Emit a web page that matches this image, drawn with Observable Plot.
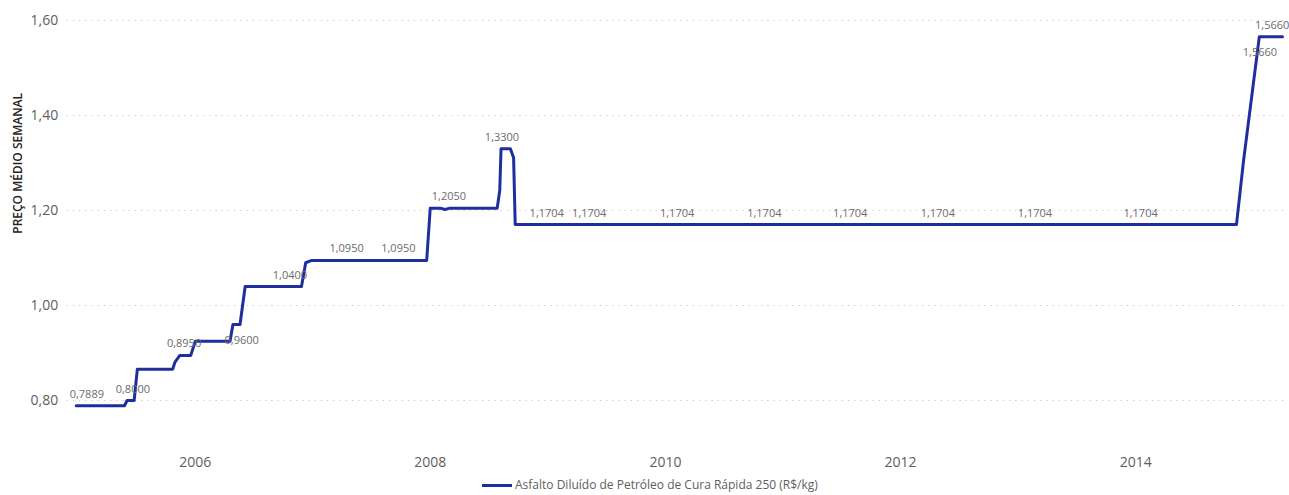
<!DOCTYPE html>
<html>
<head>
<meta charset="utf-8">
<script src="https://cdn.jsdelivr.net/npm/d3@7"></script>
<script src="https://cdn.jsdelivr.net/npm/@observablehq/plot@0.6"></script>
<style>
  html, body { margin: 0; padding: 0; background: #fff; }
  body { width: 1289px; height: 495px; overflow: hidden; position: relative; font-family: "Open Sans", "Noto Sans", sans-serif; }
  #chart svg { display: block; }
  #legend { position: absolute; left: 482px; top: 477px; height: 16px; display: flex; align-items: center; font-size: 12px; line-height: 16px; color: #605E5C; white-space: nowrap; }
  #legend .sw { width: 30px; height: 0; border-top: 3px solid #1F2E9E; margin-right: 3px; }
</style>
</head>
<body>
<div id="chart"></div>
<div id="legend"><span class="sw"></span><span>Asfalto Diluído de Petróleo de Cura Rápida 250 (R$/kg)</span></div>
<script>
// Weekly series (step changes)
const dates = [
  "2004-12-27","2005-05-26","2005-06-03","2005-06-25","2005-07-05","2005-10-23","2005-10-30","2005-11-14",
  "2005-12-18","2006-01-01","2006-04-19","2006-04-28","2006-05-20","2006-06-05","2006-11-27","2006-12-10",
  "2006-12-29","2007-12-21","2008-01-01","2008-02-01","2008-02-16","2008-03-03","2008-07-27","2008-08-04",
  "2008-08-08","2008-09-06","2008-09-16","2008-09-21","2014-11-10","2014-12-02","2015-01-20","2015-04-02"
];
const values = [
  0.7889,0.7889,0.8000,0.8000,0.8660,0.8660,0.8810,0.8950,
  0.8950,0.9250,0.9250,0.9600,0.9600,1.0400,1.0400,1.0900,
  1.0950,1.0950,1.2050,1.2050,1.2020,1.2050,1.2050,1.2420,
  1.3300,1.3300,1.3110,1.1704,1.1704,1.3050,1.5660,1.5660
];
// Data labels
const labelDates = [
  "2005-01-29","2005-06-21","2005-11-27","2006-05-25","2006-10-22","2007-04-16","2007-09-24","2008-02-28",
  "2008-08-11","2008-12-28","2009-05-09","2010-02-06","2010-11-04","2011-07-29","2012-04-26","2013-02-22",
  "2014-01-16","2015-01-22","2015-03-01"
];
const labelValues = [
  0.7889,0.8000,0.8950,0.9600,1.0400,1.0950,1.0950,1.2050,
  1.3300,1.1704,1.1704,1.1704,1.1704,1.1704,1.1704,1.1704,
  1.1704,1.5660,1.5660
];
const labelBelow = [
  false,false,false,true,false,false,false,false,
  false,false,false,false,false,false,false,false,
  false,true,false
];
const yTicks = [0.8, 1.0, 1.2, 1.4, 1.6];
const xTickYears = [2006, 2008, 2010, 2012, 2014];
const seriesName = "Asfalto Diluído de Petróleo de Cura Rápida 250 (R$/kg)";
const yTitle = "PREÇO MÉDIO SEMANAL";

const parse = d3.utcParse("%Y-%m-%d");
const series = dates.map((d, i) => ({date: parse(d), value: values[i]}));
const labels = labelDates.map((d, i) => ({date: parse(d), value: labelValues[i], below: labelBelow[i]}));
const fmt = v => v.toFixed(4).replace(".", ",");
const fmtTick = v => v.toFixed(2).replace(".", ",");

const chart = Plot.plot({
  width: 1289,
  height: 476,
  marginLeft: 75.7,
  marginRight: 7,
  marginTop: 10.5,
  marginBottom: 38,
  style: {fontFamily: "'Open Sans', 'Noto Sans', sans-serif", background: "#fff"},
  x: {type: "utc", domain: [series[0].date, series[series.length - 1].date]},
  y: {domain: [0.72, 1.62]},
  marks: [
    Plot.ruleY(yTicks, {stroke: "#c8c8c8", strokeWidth: 1, strokeDasharray: "1.2,5", insetLeft: -9, insetRight: -6}),
    Plot.axisY({ticks: yTicks, tickFormat: fmtTick, tickSize: 0, tickPadding: 18, fontSize: 14, fill: "#605E5C", label: null}),
    Plot.axisX({ticks: xTickYears.map(y => new Date(Date.UTC(y, 0, 1))), tickFormat: d3.utcFormat("%Y"), tickSize: 0, tickPadding: 19, fontSize: 14, fill: "#605E5C", label: null}),
    Plot.text([yTitle], {frameAnchor: "left", rotate: -90, dx: -58.5, dy: 9, fontSize: 12, fontWeight: 600, fill: "#252423"}),
    Plot.line(series, {x: "date", y: "value", stroke: "#1F2E9E", strokeWidth: 3, strokeLinejoin: "round"}),
    Plot.text(labels.filter(d => !d.below), {x: "date", y: "value", text: d => fmt(d.value), dy: -11.5, fontSize: 11, fill: "#6b6b6b"}),
    Plot.text(labels.filter(d => d.below), {x: "date", y: "value", text: d => fmt(d.value), dy: 15.5, fontSize: 11, fill: "#6b6b6b"})
  ]
});
document.getElementById("chart").appendChild(chart);
</script>
</body>
</html>
